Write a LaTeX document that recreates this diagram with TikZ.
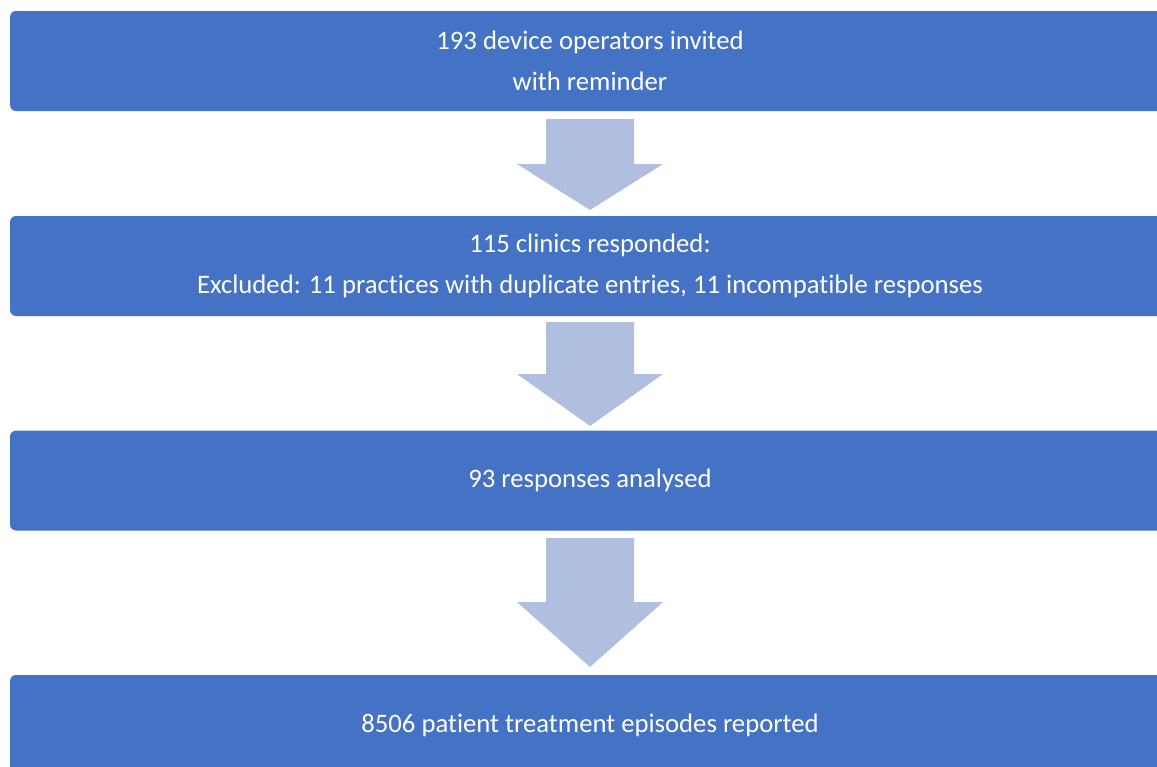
\documentclass[tikz,border=0pt]{standalone}
\usepackage{fontspec}
\setmainfont{Carlito}[Ligatures=NoCommon]
\definecolor{boxblue}{HTML}{4472C4}
\definecolor{arrowblue}{HTML}{B0BEE0}
\begin{document}
\begin{tikzpicture}[x=1pt,y=-1pt,
  stage/.style={draw=none,fill=boxblue,text=white,rounded corners=6pt,
    minimum width=1160pt,minimum height=100pt,inner sep=0pt,align=center,
    font=\fontsize{26.7}{40.5}\selectfont},
  blockarrow/.style={fill=arrowblue,draw=none}]
\useasboundingbox (0,0) rectangle (1157,766);
\clip (0,0) rectangle (1157,766);
\node[stage] (b1) at (590,61) {193 device operators invited\\with reminder};
\node[stage] (b2) at (590,266) {115 clinics responded:\\Excluded: 11 practices with duplicate entries, 11 incompatible responses};
\node[stage] (b3) at (590,480.5) {93 responses analysed};
\node[stage] (b4) at (590,725) {8506 patient treatment episodes reported};
% block arrows
\fill[blockarrow] (546,119) -- (634,119) -- (634,164) -- (663,164) -- (590,210) -- (517,164) -- (546,164) -- cycle;
\fill[blockarrow] (546,322) -- (634,322) -- (634,374) -- (663,374) -- (590,426) -- (517,374) -- (546,374) -- cycle;
\fill[blockarrow] (546,538) -- (634,538) -- (634,602) -- (663,602) -- (590,667) -- (517,602) -- (546,602) -- cycle;
\end{tikzpicture}
\end{document}
